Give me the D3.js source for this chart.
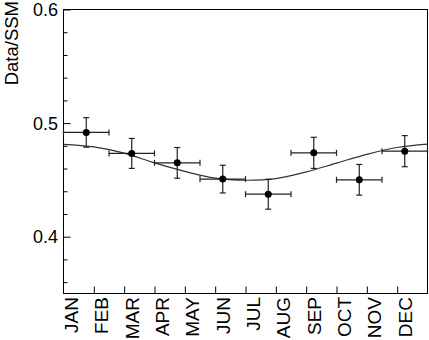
<!DOCTYPE html>
<html><head><meta charset="utf-8">
<script src="https://cdn.jsdelivr.net/npm/d3@7/dist/d3.min.js"></script>
<style>body{margin:0;background:#fff}svg{display:block}text{font-family:"Liberation Sans",Arial,Helvetica,sans-serif;fill:#000}</style>
</head><body>
<script>
const months = ["JAN","FEB","MAR","APR","MAY","JUN","JUL","AUG","SEP","OCT","NOV","DEC"];
const pointX = [0.75, 2.25, 3.75, 5.25, 6.75, 8.25, 9.75, 11.25];
const pointY = [0.4918, 0.4733, 0.4650, 0.4507, 0.4374, 0.4738, 0.4501, 0.4753];
const yErr   = [0.0130, 0.0132, 0.0135, 0.0122, 0.0132, 0.0137, 0.0135, 0.0137];
const xErr   = [0.75, 0.75, 0.75, 0.75, 0.75, 0.75, 0.75, 0.75];
const curveX = [0, 1, 2, 3, 4, 5, 6, 7, 8, 9, 10, 11, 12];
const curveY = [0.4813, 0.4790, 0.4735, 0.4650, 0.4575, 0.4515, 0.4497, 0.4512, 0.4570, 0.4648, 0.4725, 0.4785, 0.4815];
const yMajor = [0.4, 0.5, 0.6];
const yLabel = "Data/SSM";

const W = 429, H = 340;
const svg = d3.select("body").append("svg").attr("width", W).attr("height", H);
const x = d3.scaleLinear().domain([0, 12]).range([63.5, 427.5]);
const y = d3.scaleLinear().domain([0.35, 0.6]).range([293.5, 9.5]);

// frame
svg.append("rect").attr("x", x(0)).attr("y", y(0.6)).attr("width", x(12) - x(0)).attr("height", y(0.35) - y(0.6))
  .attr("fill", "none").attr("stroke", "#000").attr("stroke-width", 1);

// y axis ticks (inside)
const yAxis = d3.axisRight(y).tickValues(yMajor).tickSize(7).tickFormat("");
svg.append("g").attr("transform", `translate(${x(0)},0)`).call(yAxis).call(g => g.select(".domain").remove());
const yMinor = d3.range(0.36, 0.6, 0.02).filter(v => !yMajor.some(m => Math.abs(m - v) < 1e-6));
svg.append("g").attr("transform", `translate(${x(0)},0)`)
  .call(d3.axisRight(y).tickValues(yMinor).tickSize(4).tickFormat(""))
  .call(g => g.select(".domain").remove());
svg.selectAll(".tick line").attr("stroke", "#000");
// y tick labels
svg.append("g").selectAll("text").data(yMajor).join("text")
  .attr("x", 58).attr("y", d => y(d)).attr("dy", "0.36em").attr("text-anchor", "end")
  .attr("font-size", 18).text(d => d3.format(".1f")(d));
// y label
svg.append("text").attr("transform", "translate(18,1) rotate(-90)").attr("text-anchor", "end")
  .attr("font-size", 18.5).text(yLabel);

// x axis ticks (inside, pointing up)
svg.append("g").attr("transform", `translate(0,${y(0.35)})`)
  .call(d3.axisTop(x).tickValues(d3.range(1, 12)).tickSize(7).tickFormat(""))
  .call(g => g.select(".domain").remove())
  .selectAll("line").attr("stroke", "#000");
// month labels
svg.append("g").selectAll("text").data(months).join("text")
  .attr("transform", (d, i) => `translate(${x(i) + 14.5},297) rotate(-90)`)
  .attr("text-anchor", "end").attr("font-size", 19).text(d => d);

// fit curve
const line = d3.line().x((d, i) => x(curveX[i])).y(d => y(d)).curve(d3.curveCatmullRom);
svg.append("path").datum(curveY).attr("d", line).attr("fill", "none").attr("stroke", "#333").attr("stroke-width", 1.2);

// error bars
const cap = 3;
const eb = svg.append("g").attr("stroke", "#222").attr("stroke-width", 1.2).attr("fill", "none");
pointX.forEach((px, i) => {
  const cx = x(px), cy = y(pointY[i]);
  const x0 = x(px - xErr[i]), x1 = x(px + xErr[i]);
  const y0 = y(pointY[i] - yErr[i]), y1 = y(pointY[i] + yErr[i]);
  eb.append("line").attr("x1", x0).attr("x2", x1).attr("y1", cy).attr("y2", cy);
  eb.append("line").attr("x1", cx).attr("x2", cx).attr("y1", y0).attr("y2", y1);
  eb.append("line").attr("x1", x0).attr("x2", x0).attr("y1", cy - cap).attr("y2", cy + cap);
  eb.append("line").attr("x1", x1).attr("x2", x1).attr("y1", cy - cap).attr("y2", cy + cap);
  eb.append("line").attr("x1", cx - cap).attr("x2", cx + cap).attr("y1", y0).attr("y2", y0);
  eb.append("line").attr("x1", cx - cap).attr("x2", cx + cap).attr("y1", y1).attr("y2", y1);
});
svg.append("g").selectAll("circle").data(pointX).join("circle")
  .attr("cx", d => x(d)).attr("cy", (d, i) => y(pointY[i])).attr("r", 3.5).attr("fill", "#000");
</script>
</body></html>
